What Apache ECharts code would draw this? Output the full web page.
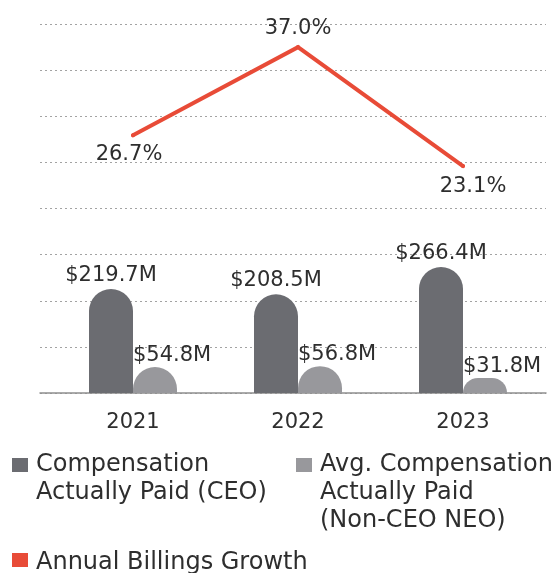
<!DOCTYPE html>
<html>
<head>
<meta charset="utf-8">
<style>
  html, body { margin: 0; padding: 0; background: #ffffff; }
  #chart { width: 557px; height: 573px; }
</style>
<script src="https://cdn.jsdelivr.net/npm/echarts@6/dist/echarts.min.js"></script>
</head>
<body>
<div id="chart"></div>
<script>
// Pay-versus-performance: compensation actually paid vs. annual billings growth
const years = ['2021', '2022', '2023'];
const ceoPaid = [219.7, 208.5, 266.4];          // $M
const neoAvgPaid = [54.8, 56.8, 31.8];          // $M
const billingsGrowth = [26.7, 37.0, 23.1];      // %

const ceoName = 'Compensation\nActually Paid (CEO)';
const neoName = 'Avg. Compensation\nActually Paid\n(Non-CEO NEO)';
const growthName = 'Annual Billings Growth';

const FONT = 'DejaVu Sans';
const TEXT = '#2e2e2e';
const CEO_COLOR = '#6b6c71';
const NEO_COLOR = '#98989c';
const LINE_COLOR = '#e84b37';
const LEGEND_LINE = 28;
const SWATCH_BOX = 19;   // swatch slot width (16px square + spacing)

// label placement for each growth point (style only)
const growthLabelStyle = [
  { position: 'bottom', offset: [-4, 4] },
  { position: 'top', offset: [0, -3] },
  { position: 'bottom', offset: [10, 5] }
];

// Legend swatch: a 16x14 square placed in the first text line slot; the
// trailing move-to points stretch the icon box to the full text block so
// the square lines up with the first line of a multi-line name.
function swatch(lines, dy) {
  const h = lines * LEGEND_LINE;
  const y0 = (LEGEND_LINE - 14) / 2 + (dy || 0);
  return 'path://M0,0M0,' + y0 + 'h16v14h-16zM' + SWATCH_BOX + ',' + h;
}

const legendText = {
  fontFamily: FONT, fontSize: 24, color: TEXT, lineHeight: LEGEND_LINE
};

const chart = echarts.init(document.getElementById('chart'), null, { renderer: 'canvas' });

chart.setOption({
  animation: false,
  textStyle: { fontFamily: FONT },
  grid: [
    // background rules + baseline
    { left: 40, right: 11, top: 24, height: 369 },
    // data area
    { left: 50.5, right: 11.5, top: 24, height: 369 }
  ],
  xAxis: [
    {
      gridIndex: 0, type: 'value', min: 0, max: 1,
      axisLine: { show: true, lineStyle: { color: '#8e8e8e', width: 1.5 } },
      axisTick: { show: false }, axisLabel: { show: false }, splitLine: { show: false }
    },
    {
      gridIndex: 1, type: 'category', data: years,
      axisLine: { show: false }, axisTick: { show: false },
      axisLabel: { fontFamily: FONT, fontSize: 21, color: TEXT, margin: 19 }
    }
  ],
  yAxis: [
    {
      gridIndex: 0, type: 'value', min: 0, max: 8, interval: 1,
      axisLine: { show: false }, axisTick: { show: false }, axisLabel: { show: false },
      splitLine: { show: true, lineStyle: { color: '#a3a3a3', width: 1, type: [2, 3] } }
    },
    {
      gridIndex: 1, type: 'value', min: 0, max: 780, show: false,
      splitLine: { show: false }
    },
    {
      gridIndex: 1, type: 'value', min: -3.4, max: 39.7, show: false,
      splitLine: { show: false }
    }
  ],
  legend: [
    {
      data: [{ name: ceoName, icon: swatch(2) }],
      left: 12, top: 451, padding: 0, itemWidth: SWATCH_BOX, itemHeight: 2 * LEGEND_LINE,
      textStyle: legendText, selectedMode: false
    },
    {
      data: [{ name: neoName, icon: swatch(3) }],
      left: 296, top: 451, padding: 0, itemWidth: SWATCH_BOX, itemHeight: 3 * LEGEND_LINE,
      textStyle: legendText, selectedMode: false
    },
    {
      data: [{ name: growthName, icon: swatch(1, -3) }],
      left: 12, top: 549, padding: 0, itemWidth: SWATCH_BOX, itemHeight: LEGEND_LINE,
      textStyle: legendText, selectedMode: false
    }
  ],
  series: [
    {
      name: ceoName, type: 'bar', xAxisIndex: 1, yAxisIndex: 1,
      data: ceoPaid, barWidth: 44, barGap: '0%',
      itemStyle: { color: CEO_COLOR, borderRadius: [22, 22, 0, 0] },
      label: {
        show: true, position: 'top', distance: 3,
        fontFamily: FONT, fontSize: 21, color: TEXT,
        formatter: (p) => '$' + p.value.toFixed(1) + 'M'
      }
    },
    {
      name: neoName, type: 'bar', xAxisIndex: 1, yAxisIndex: 1,
      data: neoAvgPaid, barWidth: 44,
      itemStyle: { color: NEO_COLOR, borderRadius: [22, 22, 0, 0] },
      label: {
        show: true, position: 'top', distance: 1, align: 'left', offset: [-22, 0],
        fontFamily: FONT, fontSize: 21, color: TEXT,
        formatter: (p) => '$' + p.value.toFixed(1) + 'M'
      }
    },
    {
      name: growthName, type: 'line', xAxisIndex: 1, yAxisIndex: 2,
      data: billingsGrowth.map((v, i) => ({ value: v, label: growthLabelStyle[i] })),
      symbol: 'circle', symbolSize: 4, showSymbol: true,
      itemStyle: { color: LINE_COLOR },
      lineStyle: { color: LINE_COLOR, width: 4, cap: 'round', join: 'miter' },
      label: {
        show: true, distance: 3,
        fontFamily: FONT, fontSize: 21, color: TEXT,
        formatter: (p) => p.value.toFixed(1) + '%'
      },
      z: 5
    }
  ]
});
</script>
</body>
</html>
